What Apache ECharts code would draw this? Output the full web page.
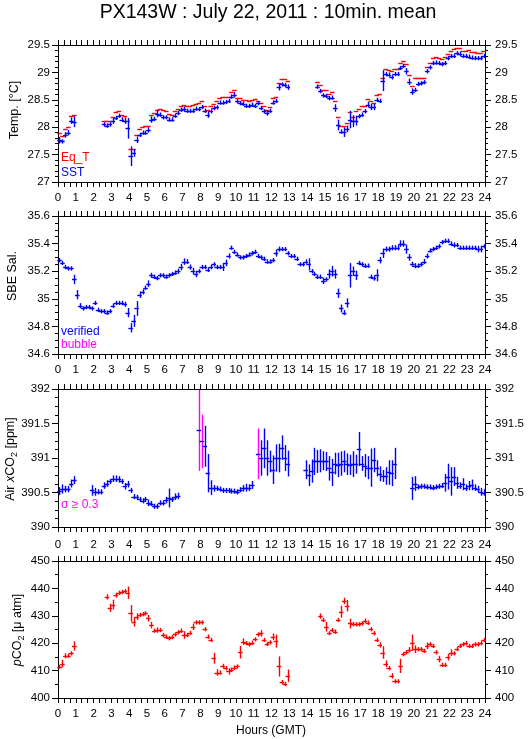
<!DOCTYPE html>
<html>
<head>
<meta charset="utf-8">
<script src="https://cdn.jsdelivr.net/npm/echarts@6/dist/echarts.min.js"></script>
<style>
html,body{margin:0;padding:0;background:#fff;}
#chart{width:529px;height:739px;}
</style>
</head>
<body>
<div id="chart"></div>
<script>
// ---- DATA: 10-minute slots, slot i covers hours [i/6, (i+1)/6) ----
const hourTicks = [0,1,2,3,4,5,6,7,8,9,10,11,12,13,14,15,16,17,18,19,20,21,22,23,24];

const sst = [
27.76,27.74,27.86,27.90,28.12,28.10,null,null,null,null,null,null,
null,null,null,28.05,28.03,28.05,28.11,28.17,28.21,28.14,28.12,27.98,
27.47,27.53,27.77,27.86,27.90,27.90,27.95,28.14,28.15,28.25,28.23,28.18,
28.18,28.14,28.14,28.21,28.26,28.32,28.33,28.30,28.30,28.30,28.34,28.33,
28.37,28.30,28.23,28.29,28.35,28.36,28.45,28.45,28.46,28.48,28.56,28.59,
28.47,28.44,28.43,28.39,28.39,28.41,28.39,28.44,28.35,28.29,28.26,28.30,
28.45,28.48,28.73,28.78,28.77,28.73,null,null,null,null,null,null,
null,null,null,28.74,28.66,28.58,28.57,28.53,28.54,28.35,28.04,27.92,
27.91,27.97,28.14,28.11,28.12,28.20,28.23,28.29,28.41,28.37,28.37,28.50,
28.48,28.85,28.97,28.96,28.91,28.97,28.97,29.08,29.12,29.02,28.83,28.65,
28.68,28.79,28.80,28.82,29.02,29.09,29.17,29.18,29.17,29.15,29.17,29.26,
29.30,29.30,29.35,29.34,29.30,29.30,29.29,29.27,29.26,29.26,29.26,29.30];

const sstSd = [
0.05,0.03,0.04,0.04,0.05,0.09,null,null,null,null,null,null,
null,null,null,0.03,0.03,0.03,0.04,0.03,0.03,0.03,0.05,0.18,
0.17,0.06,0.05,0.03,0.03,0.03,0.04,0.05,0.03,0.06,0.03,0.03,
0.03,0.03,0.03,0.03,0.03,0.03,0.04,0.03,0.03,0.03,0.03,0.03,
0.03,0.03,0.05,0.03,0.03,0.03,0.03,0.03,0.03,0.03,0.03,0.04,
0.03,0.03,0.03,0.03,0.03,0.03,0.03,0.03,0.03,0.03,0.04,0.03,
0.03,0.03,0.05,0.03,0.03,0.04,null,null,null,null,null,null,
null,null,null,0.03,0.03,0.03,0.03,0.03,0.03,0.06,0.09,0.03,
0.08,0.05,0.15,0.10,0.08,0.03,0.03,0.03,0.04,0.05,0.05,0.03,
0.03,0.18,0.03,0.03,0.03,0.03,0.03,0.03,0.03,0.05,0.05,0.05,
0.03,0.03,0.03,0.03,0.03,0.03,0.03,0.03,0.03,0.03,0.03,0.03,
0.03,0.03,0.03,0.03,0.03,0.03,0.03,0.03,0.03,0.03,0.03,0.03];

const eqT = [
27.89,27.84,27.96,28.00,28.20,28.22,null,null,null,null,null,null,
null,null,null,28.12,28.12,28.12,28.18,28.28,28.29,28.23,28.20,28.12,
27.60,27.60,27.85,27.97,28.00,28.02,28.03,28.22,28.26,28.32,28.34,28.31,
28.29,28.25,28.23,28.29,28.34,28.39,28.41,28.39,28.38,28.41,28.43,28.44,
28.47,28.39,28.32,28.38,28.43,28.47,28.53,28.55,28.56,28.56,28.65,28.68,
28.54,28.53,28.50,28.49,28.48,28.50,28.52,28.47,28.45,28.39,28.32,28.37,
28.53,28.56,28.80,28.88,28.88,28.85,null,null,null,null,null,null,
null,null,null,28.82,28.77,28.68,28.68,28.60,28.64,28.48,28.18,28.03,
28.03,28.08,28.28,28.18,28.30,28.33,28.38,28.38,28.51,28.47,28.45,28.58,
28.60,28.89,29.06,29.05,29.03,29.06,29.06,29.17,29.20,29.15,28.95,28.75,
28.89,28.89,28.89,28.89,29.09,29.17,29.26,29.28,29.26,29.24,29.28,29.34,
29.39,29.42,29.44,29.44,29.39,29.39,29.41,29.37,29.37,29.35,29.35,29.39];

const sal = [
35.28,35.26,35.23,35.22,35.22,35.14,35.03,34.95,34.93,34.94,34.94,34.93,
34.97,34.92,34.91,34.91,34.90,34.91,34.95,34.97,34.97,34.97,34.96,34.90,
34.79,34.84,34.93,35.03,35.05,35.08,35.11,35.17,35.16,35.15,35.17,35.17,
35.16,35.17,35.18,35.19,35.20,35.23,35.27,35.27,35.23,35.20,35.18,35.20,
35.23,35.23,35.21,35.23,35.25,35.23,35.23,35.23,35.26,35.31,35.37,35.34,
35.32,35.30,35.30,35.31,35.32,35.33,35.34,35.31,35.30,35.29,35.27,35.27,
35.28,35.33,35.36,35.36,35.36,35.33,35.31,35.31,35.29,35.25,35.25,35.27,
35.25,35.20,35.18,35.16,35.16,35.13,35.14,35.18,35.20,35.18,35.04,34.93,
34.90,34.97,35.17,35.20,35.17,35.26,35.25,35.24,35.24,35.16,35.15,35.17,
35.28,35.33,35.36,35.36,35.37,35.37,35.37,35.40,35.40,35.36,35.30,35.25,
35.24,35.24,35.25,35.27,35.31,35.35,35.36,35.37,35.38,35.41,35.42,35.42,
35.40,35.39,35.39,35.37,35.37,35.37,35.37,35.37,35.37,35.36,35.36,35.38];

const salSd = [
0.012,0.012,0.012,0.012,0.012,0.03,0.03,0.015,0.012,0.012,0.012,0.012,
0.012,0.012,0.012,0.012,0.012,0.012,0.012,0.012,0.012,0.012,0.015,0.03,
0.03,0.04,0.05,0.02,0.015,0.012,0.02,0.015,0.012,0.012,0.012,0.012,
0.012,0.012,0.012,0.012,0.015,0.02,0.02,0.015,0.015,0.02,0.02,0.012,
0.012,0.012,0.012,0.012,0.012,0.012,0.012,0.025,0.02,0.015,0.012,0.012,
0.012,0.012,0.012,0.012,0.012,0.012,0.012,0.012,0.012,0.012,0.012,0.012,
0.012,0.02,0.015,0.012,0.012,0.012,0.012,0.012,0.012,0.012,0.012,0.012,
0.04,0.012,0.012,0.012,0.012,0.02,0.012,0.03,0.035,0.03,0.03,0.025,
0.015,0.03,0.085,0.03,0.03,0.012,0.012,0.012,0.012,0.012,0.015,0.04,
0.02,0.03,0.015,0.015,0.015,0.015,0.015,0.02,0.02,0.03,0.02,0.015,
0.015,0.012,0.012,0.015,0.015,0.012,0.012,0.012,0.012,0.012,0.012,0.012,
0.012,0.015,0.012,0.012,0.012,0.012,0.012,0.012,0.012,0.02,0.02,0.012];

const airCO2 = [
390.52,390.55,390.55,390.55,390.63,390.68,null,null,null,null,null,390.53,
390.51,390.51,390.51,390.60,390.63,390.66,390.70,390.70,390.69,390.66,390.59,390.62,
390.53,390.44,390.43,390.40,390.38,390.40,390.35,390.34,390.30,390.30,390.35,390.35,
390.39,390.42,390.40,390.44,390.45,null,null,null,null,null,null,391.40,
391.24,391.17,390.78,390.57,390.56,390.56,390.55,390.53,390.53,390.53,390.52,390.52,
390.51,390.54,390.56,390.57,390.57,390.61,null,391.06,391.00,391.14,391.00,390.95,
390.83,391.00,391.00,391.15,391.00,390.92,null,null,null,null,null,390.83,
390.75,390.81,390.95,390.95,390.96,390.96,390.95,390.85,390.79,390.92,390.90,390.92,
390.95,390.91,390.90,390.91,390.91,391.13,390.92,390.89,390.86,390.86,390.97,390.85,
390.77,390.74,390.74,390.79,390.78,390.92,null,null,null,null,null,390.56,
390.63,390.58,390.59,390.59,390.58,390.58,390.57,390.58,390.59,390.60,390.64,390.73,
390.66,390.73,390.64,390.60,390.62,390.57,390.60,390.61,390.57,390.55,390.51,390.50];

const airCO2Sd = [
0.05,0.06,0.04,0.04,0.05,0.05,null,null,null,null,null,0.07,
0.05,0.03,0.03,0.04,0.04,0.03,0.04,0.04,0.04,0.03,0.04,0.04,
0.03,0.03,0.03,0.03,0.03,0.03,0.04,0.03,0.03,0.03,0.03,0.03,
0.04,0.13,0.03,0.04,0.04,null,null,null,null,null,null,0.58,
0.38,0.29,0.27,0.10,0.04,0.03,0.03,0.03,0.03,0.03,0.03,0.03,
0.03,0.03,0.04,0.05,0.04,0.05,null,0.36,0.25,0.28,0.25,0.15,
0.20,0.19,0.20,0.17,0.18,0.18,null,null,null,null,null,0.13,
0.15,0.16,0.19,0.16,0.16,0.13,0.13,0.17,0.19,0.15,0.17,0.17,
0.15,0.15,0.14,0.18,0.13,0.24,0.10,0.16,0.16,0.27,0.17,0.11,
0.10,0.08,0.12,0.17,0.18,0.22,null,null,null,null,null,0.16,
0.10,0.03,0.03,0.03,0.03,0.03,0.03,0.03,0.03,0.03,0.12,0.18,
0.20,0.13,0.08,0.04,0.08,0.04,0.06,0.07,0.04,0.04,0.05,0.04];
const sigmaLimit = 0.3;

const pCO2 = [
411.4,412.5,415.4,415.5,416.3,419.0,null,null,null,null,null,null,
null,null,null,null,436.9,432.9,434.1,437.5,438.4,438.7,439.0,438.4,
430.9,427.8,429.7,430.3,430.6,430.9,429.1,426.6,424.6,424.8,424.8,423.0,
422.4,421.8,422.2,423.2,424.0,424.6,423.0,423.0,423.8,426.0,427.6,427.6,
427.6,425.1,422.4,421.2,414.5,409.3,409.3,411.7,410.9,409.7,410.3,411.1,
411.5,416.7,420.6,420.0,419.6,420.2,421.4,423.2,423.6,421.2,419.7,420.3,
422.4,420.8,411.5,405.8,405.1,408.1,null,null,null,null,null,null,
null,null,null,null,429.9,428.5,426.0,423.6,424.8,424.2,428.5,431.5,
435.4,433.7,427.2,427.0,426.9,426.9,427.2,428.2,427.5,425.1,423.6,421.2,
419.4,416.6,412.5,410.9,408.1,406.1,406.1,411.7,416.0,416.7,417.6,420.2,
417.8,417.8,417.8,417.2,419.0,419.6,419.0,416.7,414.2,412.1,412.1,414.9,
416.6,416.3,417.9,419.0,419.6,420.0,419.0,419.0,419.6,419.6,420.0,421.2];

const pCO2Sd = [
0.6,1.2,0.7,0.6,0.6,1.5,null,null,null,null,null,null,
null,null,null,null,0.8,1.3,1.6,0.7,0.6,0.6,0.6,2.1,
2.8,1.5,1.0,0.6,0.6,0.6,1.0,1.0,0.6,0.8,0.6,0.6,
0.6,0.6,0.6,0.6,0.6,0.6,1.2,0.6,0.6,1.0,0.6,0.6,
0.6,0.6,0.6,0.6,1.8,1.0,0.6,0.6,0.6,1.0,0.6,0.6,
0.6,2.1,1.0,0.6,0.6,0.6,0.6,0.6,1.0,0.6,0.6,0.6,
1.0,2.2,3.5,0.6,0.6,2.1,null,null,null,null,null,null,
null,null,null,null,0.8,0.6,1.6,0.6,0.6,0.6,0.6,2.0,
1.0,1.9,1.6,0.6,0.6,0.6,0.6,0.6,0.6,0.6,0.6,0.6,
0.8,2.1,1.0,0.6,0.8,0.6,0.6,2.4,0.6,0.6,0.8,2.8,
1.2,0.6,0.6,0.6,1.0,0.6,0.6,0.6,1.0,0.6,0.6,1.0,
1.0,0.6,0.6,0.6,0.6,0.6,0.6,0.6,0.6,0.6,0.6,0.6];

// ---- build ----
const BLUE = '#0000ff', RED = '#ff0000', MAG = '#ff00ff';
const FONT = '"Liberation Sans", Arial, Helvetica, sans-serif';
const SLOT = 1 / 6;

function toItems(vals, sds) {
  const out = [];
  vals.forEach((v, i) => {
    if (v === null || v === undefined) return;
    out.push([(i + 0.5) * SLOT, v, sds ? sds[i] : 0]);
  });
  return out;
}

function crossRenderer(hColor, vColorFn, withV) {
  return function (params, api) {
    const t = api.value(0), v = api.value(1), sd = api.value(2);
    const a = api.coord([t - SLOT / 2, v]);
    const b = api.coord([t + SLOT / 2, v]);
    const children = [];
    if (withV) {
      const p = api.coord([t, v + sd]);
      const q = api.coord([t, v - sd]);
      const x = Math.round(p[0]) + 0.5;
      children.push({type: 'line', shape: {x1: x, y1: p[1] - 0.5, x2: x, y2: q[1] + 0.5},
        style: {stroke: vColorFn(sd), lineWidth: 1.4}});
    }
    const y = Math.round(a[1]) + 0.5;
    children.push({type: 'line', shape: {x1: a[0] - 0.8, y1: y, x2: b[0] + 0.8, y2: y},
      style: {stroke: hColor, lineWidth: 1.4}});
    return {type: 'group', children: children};
  };
}

const grids = [
  {left: 58, top: 45, width: 427, height: 137},
  {left: 58, top: 216, width: 427, height: 138},
  {left: 58, top: 389, width: 427, height: 138},
  {left: 58, top: 561, width: 427, height: 137}
];
const yCfg = [
  {min: 27, max: 29.5, interval: 0.5, minor: 5},
  {min: 34.6, max: 35.6, interval: 0.2, minor: 4},
  {min: 390, max: 392, interval: 0.5, minor: 4},
  {min: 400, max: 450, interval: 10, minor: 2}
];
const bottomLabels = [true, true, false, true];
const topLabels = [false, false, false, true];

const axisLine = {show: true, onZero: false, lineStyle: {color: '#000', width: 1}};
const xAxes = [], yAxes = [];
grids.forEach((g, k) => {
  ['bottom', 'top'].forEach(pos => {
    const showLab = pos === 'bottom' ? bottomLabels[k] : topLabels[k];
    xAxes.push({
      type: 'value', gridIndex: k, position: pos, min: hourTicks[0], max: hourTicks[hourTicks.length - 1], interval: 1,
      axisLine: axisLine,
      axisTick: {show: true, inside: false, length: 5, lineStyle: {color: '#000'}},
      minorTick: {show: true, splitNumber: 3, length: 5, lineStyle: {color: '#000'}},
      axisLabel: {show: showLab, margin: 10, color: '#000', fontSize: 11.5, fontFamily: FONT},
      splitLine: {show: false}, minorSplitLine: {show: false}
    });
  });
  ['left', 'right'].forEach(pos => {
    const c = yCfg[k];
    yAxes.push({
      type: 'value', gridIndex: k, position: pos, min: c.min, max: c.max, interval: c.interval,
      axisLine: axisLine,
      axisTick: {show: true, inside: false, length: 6, lineStyle: {color: '#000'}},
      minorTick: {show: true, splitNumber: c.minor, length: 3, lineStyle: {color: '#000'}},
      axisLabel: {show: true, margin: pos === 'left' ? 8 : 10, color: '#000', fontSize: 11.5, fontFamily: FONT},
      splitLine: {show: false}, minorSplitLine: {show: false}
    });
  });
});

function cross(k, data, hColor, vColorFn, withV, z) {
  return {
    type: 'custom', xAxisIndex: 2 * k, yAxisIndex: 2 * k, data: data,
    encode: {x: 0, y: 1}, clip: false, z: z || 2, silent: true,
    renderItem: crossRenderer(hColor, vColorFn, withV)
  };
}

const series = [
  cross(0, toItems(eqT, null), RED, () => RED, false, 2),
  cross(0, toItems(sst, sstSd), BLUE, () => BLUE, true, 3),
  cross(1, toItems(sal, salSd), BLUE, () => BLUE, true, 3),
  cross(2, toItems(airCO2, airCO2Sd), BLUE, sd => (sd >= sigmaLimit ? MAG : BLUE), true, 3),
  cross(3, toItems(pCO2, pCO2Sd), RED, () => RED, true, 3)
];

function txt(x, y, text, color, size, extra) {
  return Object.assign({
    type: 'text', x: x, y: y, silent: true,
    style: {text: text, fill: color, font: size + 'px ' + FONT, textAlign: 'left', textVerticalAlign: 'middle'}
  }, extra || {});
}
function vtxt(x, y, text, rich) {
  return {
    type: 'text', x: x, y: y, rotation: Math.PI / 2, silent: true,
    style: {text: text, rich: rich, fill: '#000', font: '12.5px ' + FONT, textAlign: 'center', textVerticalAlign: 'middle'}
  };
}
const richBase = {
  a: {fontSize: 12.5, fontFamily: FONT, color: '#000', lineHeight: 16, verticalAlign: 'middle'},
  i: {fontSize: 12.5, fontFamily: FONT, fontStyle: 'italic', color: '#000', lineHeight: 16, verticalAlign: 'middle'},
  s: {fontSize: 9, fontFamily: FONT, color: '#000', lineHeight: 16, verticalAlign: 'bottom'}
};

const graphic = [
  {type: 'text', x: 268, y: 13, silent: true,
   style: {text: 'PX143W : July 22, 2011 : 10min. mean', fill: '#000', font: '19.5px ' + FONT, textAlign: 'center', textVerticalAlign: 'middle'}},
  vtxt(15, 110, '{a|Temp. [°C]}', richBase),
  vtxt(13, 276, '{a|SBE Sal.}', richBase),
  vtxt(11, 459, '{a|Air }{i|x}{a|CO}{s|2}{a| [ppm]}', richBase),
  vtxt(18, 630, '{i|p}{a|CO}{s|2}{a| [μ atm]}', richBase),
  txt(61, 158, 'Eq_T', RED, 12),
  txt(61, 173, 'SST', BLUE, 12),
  txt(61, 332, 'verified', BLUE, 12),
  txt(61, 345, 'bubble', MAG, 12),
  txt(61, 505, 'σ ≥ 0.3', MAG, 12),
  {type: 'text', x: 271, y: 731, silent: true,
   style: {text: 'Hours (GMT)', fill: '#000', font: '12px ' + FONT, textAlign: 'center', textVerticalAlign: 'middle'}}
];

const chart = echarts.init(document.getElementById('chart'), null, {renderer: 'canvas'});
chart.setOption({
  animation: false,
  backgroundColor: '#fff',
  grid: grids,
  xAxis: xAxes,
  yAxis: yAxes,
  series: series,
  graphic: graphic
});
</script>
</body>
</html>
